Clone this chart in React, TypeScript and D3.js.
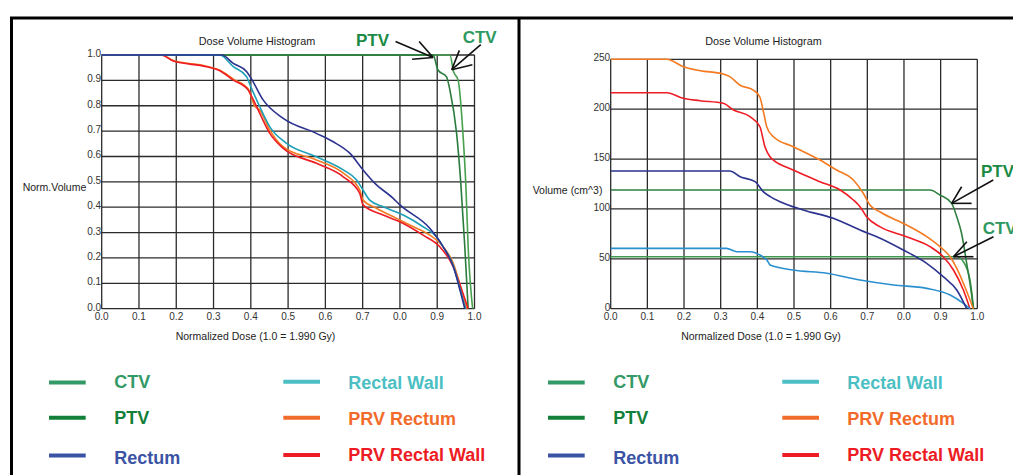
import React from "react";
import * as d3 from "d3";

type Pt = [number, number];

// ---------- Data: left chart (normalized volume vs normalized dose) ----------
const leftCTV: Pt[] = [[0, 1], [0.934, 1], [0.944, 0.934], [0.956, 0.901], [0.969, 0.691], [0.977, 0.48], [0.983, 0.244], [0.995, 0]];
const leftPTV: Pt[] = [[0, 1], [0.889, 1], [0.902, 0.941], [0.925, 0.914], [0.934, 0.862], [0.952, 0.691], [0.963, 0.5], [0.974, 0.244], [0.983, 0]];
const leftRectum: Pt[] = [[0, 1], [0.322, 1], [0.353, 0.967], [0.389, 0.934], [0.402, 0.905], [0.433, 0.823], [0.487, 0.75], [0.576, 0.691], [0.621, 0.658], [0.666, 0.612], [0.701, 0.547], [0.733, 0.494], [0.782, 0.435], [0.8, 0.409], [0.88, 0.317], [0.916, 0.244], [0.943, 0.166], [0.961, 0.074], [0.974, 0]];
const leftRectalWall: Pt[] = [[0, 1], [0.317, 1], [0.353, 0.954], [0.389, 0.914], [0.398, 0.882], [0.424, 0.796], [0.451, 0.717], [0.496, 0.652], [0.576, 0.599], [0.648, 0.547], [0.684, 0.507], [0.7, 0.47], [0.719, 0.428], [0.755, 0.402], [0.809, 0.369], [0.862, 0.323], [0.898, 0.284], [0.916, 0.244], [0.943, 0.17], [0.962, 0.074], [0.976, 0]];
const leftPRVRectum: Pt[] = [[0, 1], [0.16, 1], [0.192, 0.978], [0.281, 0.956], [0.317, 0.94], [0.353, 0.905], [0.393, 0.866], [0.41, 0.8], [0.424, 0.783], [0.451, 0.704], [0.487, 0.638], [0.576, 0.586], [0.648, 0.534], [0.692, 0.468], [0.701, 0.428], [0.737, 0.396], [0.791, 0.356], [0.836, 0.323], [0.88, 0.29], [0.916, 0.244], [0.943, 0.179], [0.965, 0.074], [0.979, 0]];
const leftPRVRectalWall: Pt[] = [[0, 1], [0.16, 1], [0.192, 0.976], [0.281, 0.954], [0.317, 0.938], [0.353, 0.901], [0.393, 0.862], [0.398, 0.849], [0.424, 0.77], [0.451, 0.691], [0.487, 0.632], [0.576, 0.573], [0.648, 0.52], [0.692, 0.455], [0.701, 0.409], [0.755, 0.369], [0.809, 0.336], [0.862, 0.29], [0.907, 0.244], [0.943, 0.166], [0.969, 0.061], [0.983, 0]];

// ---------- Data: right chart (absolute volume cm^3 vs normalized dose) ----------
const rightCTV: Pt[] = [[0, 52.1], [0.944, 52.1], [0.962, 47.1], [0.98, 28.8], [0.99, 0]];
const rightPTV: Pt[] = [[0, 119], [0.871, 119], [0.898, 114], [0.93, 105.6], [0.944, 92.2], [0.957, 75.6], [0.971, 45.5], [0.984, 15.4], [0.989, 0]];
const rightRectum: Pt[] = [[0, 138], [0.325, 138], [0.353, 132.3], [0.394, 127.3], [0.416, 117.3], [0.435, 112.3], [0.462, 107.3], [0.525, 99], [0.607, 90.6], [0.68, 78.9], [0.735, 70.6], [0.798, 58.8], [0.862, 45.5], [0.907, 32.1], [0.944, 18.7], [0.971, 0]];
const rightRectalWall: Pt[] = [[0, 60.5], [0.316, 60.5], [0.344, 57.1], [0.38, 57.1], [0.407, 53.8], [0.426, 48.8], [0.435, 43.8], [0.498, 38.8], [0.589, 35.5], [0.68, 28.8], [0.771, 23.8], [0.862, 20.4], [0.926, 13.7], [0.962, 5.4], [0.98, 0]];
const rightPRVRectum: Pt[] = [[0, 250], [0.153, 250], [0.198, 242.6], [0.244, 238.6], [0.307, 235.3], [0.325, 232.6], [0.353, 224], [0.389, 219.2], [0.407, 212], [0.418, 195], [0.426, 182], [0.444, 172.4], [0.498, 162.4], [0.571, 149], [0.616, 139], [0.662, 129], [0.689, 115.7], [0.707, 104], [0.734, 97.2], [0.807, 83.9], [0.862, 72.2], [0.898, 62.2], [0.926, 52.1], [0.944, 40.5], [0.966, 22], [0.989, 0]];
const rightPRVRectalWall: Pt[] = [[0, 216.5], [0.153, 216.5], [0.198, 210.9], [0.244, 208.5], [0.307, 205.9], [0.335, 199.2], [0.38, 192.5], [0.407, 182.4], [0.421, 162], [0.435, 152], [0.444, 149], [0.498, 139], [0.571, 127.3], [0.626, 119], [0.662, 109], [0.68, 102.3], [0.698, 92.2], [0.734, 82.2], [0.807, 72.2], [0.871, 62.2], [0.907, 52.1], [0.935, 38.8], [0.962, 18.7], [0.98, 0]];

// ---------- Ticks ----------
const xTicks = [0, 0.1, 0.2, 0.3, 0.4, 0.5, 0.6, 0.7, 0.8, 0.9, 1.0];
const xTickLabels = ["0.0", "0.1", "0.2", "0.3", "0.4", "0.5", "0.6", "0.7", "0.0", "0.9", "1.0"];
const leftYTicks = [0, 0.1, 0.2, 0.3, 0.4, 0.5, 0.6, 0.7, 0.8, 0.9, 1.0];
const leftYTickLabels = ["0.0", "0.1", "0.2", "0.3", "0.4", "0.5", "0.6", "0.7", "0.8", "0.9", "1.0"];
const rightYTicks = [0, 50, 100, 150, 200, 250];
const rightYTickLabels = ["0", "50", "100", "150", "200", "250"];

// ---------- Legend ----------
const legendNames = ["CTV", "PTV", "Rectum", "Rectal Wall", "PRV Rectum", "PRV Rectal Wall"];
const legendColors = ["#339966", "#138039", "#3a53a4", "#4bbfc4", "#f26b2a", "#ed1c24"];

// Annotation arrow tips (data coords)
const leftAnnotTips: Pt[] = [[0.889, 0.99], [0.939, 0.942]];
const rightAnnotTips: Pt[] = [[0.93, 105.6], [0.935, 52.1]];

const FONT = "'Liberation Sans', Arial, Helvetica, sans-serif";

interface SeriesDef { data: Pt[]; color: string; }

interface PanelProps {
  x0: number; x1: number; yTop: number; yBot: number;
  yDomain: [number, number];
  yTicks: number[]; yTickLabels: string[];
  yLabel: string; yLabelX: number; yLabelY: number;
  titleX: number; xTitleX: number;
  series: SeriesDef[];
}

function Panel(p: PanelProps) {
  const x = d3.scaleLinear().domain([0, 1]).range([p.x0, p.x1]);
  const y = d3.scaleLinear().domain(p.yDomain).range([p.yBot, p.yTop]);
  const line = d3.line<Pt>().x(d => x(d[0])).y(d => y(d[1])).curve(d3.curveMonotoneX);
  return (
    <g>
      <text x={p.titleX} y={42} fontSize={10.8} fontFamily={FONT} fill="#222" textAnchor="middle" dominantBaseline="middle">Dose Volume Histogram</text>
      {xTicks.map((t, i) => (
        <line key={"vx" + i} x1={x(t)} x2={x(t)} y1={p.yTop} y2={p.yBot} stroke="#2b2b2b" strokeWidth={1.3} />
      ))}
      {p.yTicks.map((t, i) => (
        <line key={"hy" + i} x1={p.x0} x2={p.x1} y1={y(t)} y2={y(t)} stroke="#2b2b2b" strokeWidth={1.3} />
      ))}
      {p.yTicks.map((t, i) => (
        <text key={"yl" + i} x={p.x0 - 0.5} y={y(t) + 2} fontSize={10} fontFamily={FONT} fill="#333" textAnchor="end">{p.yTickLabels[i]}</text>
      ))}
      {xTicks.map((t, i) => (
        <text key={"xl" + i} x={x(t)} y={p.yBot + 10.8} fontSize={10} fontFamily={FONT} fill="#333" textAnchor="middle">{xTickLabels[i]}</text>
      ))}
      <text x={p.yLabelX} y={p.yLabelY} fontSize={10.5} fontFamily={FONT} fill="#222">{p.yLabel}</text>
      <text x={p.xTitleX} y={340} fontSize={10.5} fontFamily={FONT} fill="#222" textAnchor="middle">Normalized Dose (1.0 = 1.990 Gy)</text>
      {p.series.map((s, i) => (
        <path key={"s" + i} d={line(s.data) || ""} fill="none" stroke={s.color} strokeWidth={1.6} strokeLinejoin="round" />
      ))}
    </g>
  );
}

function Arrow({ tip, tail, h1, h2 }: { tip: [number, number]; tail: [number, number]; h1: [number, number]; h2: [number, number] }) {
  const [tx, ty] = tip;
  return (
    <g stroke="#111" strokeWidth={1.6} fill="none">
      <line x1={tx + tail[0]} y1={ty + tail[1]} x2={tx} y2={ty} />
      <line x1={tx + h1[0]} y1={ty + h1[1]} x2={tx} y2={ty} />
      <line x1={tx + h2[0]} y1={ty + h2[1]} x2={tx} y2={ty} />
    </g>
  );
}

function Legend({ ox }: { ox: number }) {
  const rowsY = [382.5, 417.7, 455.5];
  const textY = [388.3, 424, 464];
  const rowsY2 = [381.7, 417.7, 455];
  const textY2 = [389, 425, 460.7];
  return (
    <g fontFamily={FONT} fontWeight="bold" fontSize={18}>
      {legendNames.map((n, i) => {
        const col = i < 3 ? 0 : 1;
        const r = i % 3;
        const lx = ox + (col === 0 ? 49 : 283.3);
        const tx = ox + (col === 0 ? 114.3 : 348.3);
        const ly = col === 0 ? rowsY[r] : rowsY2[r];
        const ty = col === 0 ? textY[r] : textY2[r];
        return (
          <g key={n}>
            <line x1={lx} x2={lx + 36.7} y1={ly} y2={ly} stroke={legendColors[i]} strokeWidth={4} />
            <text x={tx} y={ty} fill={legendColors[i]}>{n}</text>
          </g>
        );
      })}
    </g>
  );
}

export default function App() {
  const lx = d3.scaleLinear().domain([0, 1]).range([101.7, 474.5]);
  const ly = d3.scaleLinear().domain([0, 1]).range([308.7, 55]);
  const rx = d3.scaleLinear().domain([0, 1]).range([610.7, 977.3]);
  const ry = d3.scaleLinear().domain([0, 250]).range([308.7, 59.3]);

  const leftSeries: SeriesDef[] = [
    { data: leftCTV, color: "#46a04e" },
    { data: leftPTV, color: "#2a7c3c" },
    { data: leftPRVRectum, color: "#f47a20" },
    { data: leftPRVRectalWall, color: "#ee1c24" },
    { data: leftRectalWall, color: "#1f9fb6" },
    { data: leftRectum, color: "#2c338f" },
  ];
  const rightSeries: SeriesDef[] = [
    { data: rightCTV, color: "#3f9a4c" },
    { data: rightPTV, color: "#2f8040" },
    { data: rightPRVRectum, color: "#f47a20" },
    { data: rightPRVRectalWall, color: "#ee1c24" },
    { data: rightRectalWall, color: "#2a8fcf" },
    { data: rightRectum, color: "#2c338f" },
  ];

  const lPTV: [number, number] = [lx(leftAnnotTips[0][0]), ly(leftAnnotTips[0][1])];
  const lCTV: [number, number] = [lx(leftAnnotTips[1][0]), ly(leftAnnotTips[1][1])];
  const rPTV: [number, number] = [rx(rightAnnotTips[0][0]), ry(rightAnnotTips[0][1])];
  const rCTV: [number, number] = [rx(rightAnnotTips[1][0]), ry(rightAnnotTips[1][1])];

  return (
    <svg width={1013} height={475} style={{ position: "absolute", left: 0, top: 0, background: "#fff" }}>
      <rect x={0} y={0} width={1013} height={475} fill="#fff" />
      {/* frame */}
      <line x1={10} x2={1013} y1={18} y2={18} stroke="#000" strokeWidth={3} />
      <line x1={11.5} x2={11.5} y1={17} y2={475} stroke="#000" strokeWidth={3} />
      <line x1={519} x2={519} y1={17} y2={475} stroke="#000" strokeWidth={3} />

      <Panel x0={101.7} x1={474.5} yTop={55} yBot={308.7} yDomain={[0, 1]}
        yTicks={leftYTicks} yTickLabels={leftYTickLabels}
        yLabel="Norm.Volume" yLabelX={22.7} yLabelY={191}
        titleX={257} xTitleX={255.5} series={leftSeries} />
      <Panel x0={610.7} x1={977.3} yTop={59.3} yBot={308.7} yDomain={[0, 250]}
        yTicks={rightYTicks} yTickLabels={rightYTickLabels}
        yLabel="Volume (cm^3)" yLabelX={532.7} yLabelY={194}
        titleX={763.5} xTitleX={761} series={rightSeries} />

      {/* annotations */}
      <g fontFamily={FONT} fontWeight="bold" fontSize={17}>
        <text x={356} y={46} fill="#1a8a45">PTV</text>
        <text x={462.7} y={43} fill="#2e9960">CTV</text>
        <text x={981} y={176.5} fill="#1a8a45">PTV</text>
        <text x={982.7} y={233.5} fill="#2e9960">CTV</text>
      </g>
      <Arrow tip={lPTV} tail={[-37.6, -16]} h1={[-14, -16]} h2={[-21, 1.7]} />
      <Arrow tip={lCTV} tail={[29, -25]} h1={[7.6, -19.3]} h2={[20.6, -5]} />
      <Arrow tip={rPTV} tail={[41.6, -23.3]} h1={[10, -16.6]} h2={[20, 0]} />
      <Arrow tip={rCTV} tail={[40, -20]} h1={[13.4, -15]} h2={[20, 0]} />

      <Legend ox={0} />
      <Legend ox={499} />
    </svg>
  );
}
